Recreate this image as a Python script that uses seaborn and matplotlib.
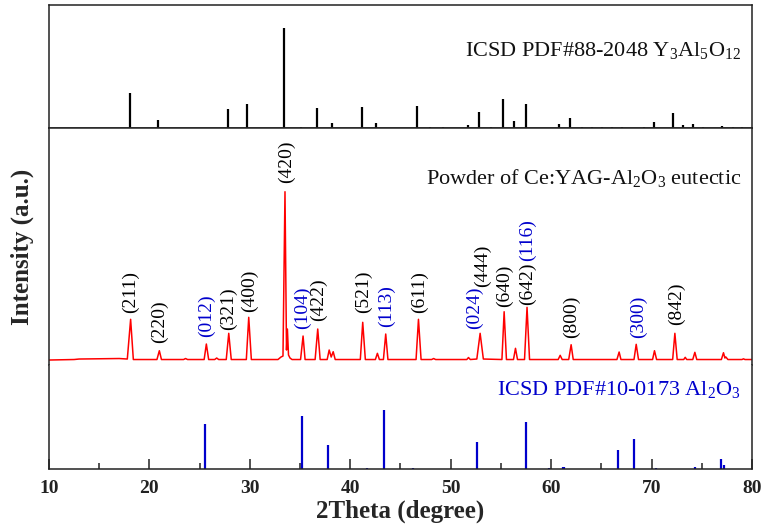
import numpy as np
import pandas as pd
import seaborn as sns
import matplotlib.pyplot as plt
from matplotlib.ticker import MultipleLocator

sns.set_theme(style='ticks')
plt.rcParams['font.family'] = ['Liberation Serif', 'DejaVu Serif']
plt.rcParams['mathtext.default'] = 'regular'

# YAG reference pattern (ICSD PDF#88-2048), relative intensity
yag_pos = [18.07, 20.9, 27.8, 29.75, 33.44, 35.1, 36.66, 38.2, 41.17, 42.6,
           46.69, 47.95, 49.2, 51.7, 52.86, 54.03, 55.2, 56.35, 57.5, 60.77,
           61.83, 63.05, 64.05, 65.05, 66.1, 67.1, 69.2, 70.2, 72.1, 73.1,
           74.1, 75.1, 77.06, 78.1, 79.0]
yag_int = [35, 8, 19, 24, 100, 1, 20, 5, 21, 5,
           22, 1, 1, 3, 16, 1, 28.7, 7, 24, 4,
           10, 1, 1, 1, 1, 1, 1, 6, 14.7, 3,
           4, 1, 2, 1.5, 1.5]

# Al2O3 reference pattern (ICSD PDF#10-0173)
alo_pos = [25.54, 35.17, 37.79, 41.7, 43.37, 46.2, 52.57, 57.5, 59.8, 61.15,
           61.3, 66.67, 68.3, 70.46, 74.35, 76.9, 77.25]
alo_int = [44.7, 53, 23.7, 1, 59, 1, 27, 46.7, 1, 2,
           2, 18.7, 30, 1, 2, 9.7, 4]

# measured powder pattern of the Ce:YAG-Al2O3 eutectic
tth = [10, 12.5, 13, 17, 17.8, 18.13, 18.4, 20.75, 20.99, 21.2,
       23.4, 23.6, 23.8, 25.45, 25.67, 25.9, 26.5, 26.7, 26.9, 27.65,
       27.9, 28.15, 29.65, 29.89, 30.15, 32.8, 33.1, 33.3, 33.5, 33.65,
       33.74, 33.85, 34.0, 34.2, 35.05, 35.3, 35.5, 36.5, 36.76, 37.0,
       37.7, 37.9, 38.1, 38.3, 38.5, 41.0, 41.24, 41.5, 42.5, 42.7,
       42.9, 43.3, 43.53, 43.75, 46.55, 46.79, 47.05, 48.1, 48.3, 48.5,
       51.6, 51.77, 51.95, 52.6, 52.93, 53.25, 55.1, 55.32, 55.55, 56.25,
       56.45, 56.65, 57.35, 57.6, 57.85, 60.7, 60.9, 61.1, 61.75, 61.99,
       62.2, 66.55, 66.77, 66.95, 68.25, 68.47, 68.7, 70.1, 70.29, 70.5,
       72.1, 72.32, 72.55, 73.2, 73.35, 73.5, 74.1, 74.31, 74.5, 76.95,
       77.16, 77.3, 77.4, 77.6, 79.0, 79.15, 79.3, 80]
counts = [0, 0.5, 1, 1.5, 1, 40.7, 0.5, 0.5, 9.3, 0.5,
          0.5, 1.5, 0.5, 0.5, 16, 0.5, 0.5, 2, 0.5, 0.5,
          26.7, 0.5, 0.5, 42.7, 0.5, 0.5, 3, 4, 168.3, 10,
          31, 5, 2, 0.5, 0.5, 24, 0.5, 0.5, 31, 0.5,
          0.5, 10, 3, 8.3, 0.5, 0.5, 37.7, 0.5, 0.5, 6.7,
          0.5, 0.5, 26, 0.5, 0.5, 40.7, 0.5, 0.5, 1.5, 0.5,
          0.5, 2.5, 0.5, 1, 26.7, 1, 0.5, 48.3, 0.5, 0.5,
          11.7, 0.5, 0.5, 52.7, 0.5, 0.5, 4.7, 0.5, 0.5, 15.3,
          0.5, 0.5, 8, 0.5, 0.5, 15.7, 0.5, 0.5, 9.3, 0.5,
          0.5, 26.7, 0.5, 0.5, 2.7, 0.5, 0.5, 7.7, 0.5, 0.5,
          7.3, 2, 3, 0.5, 0.5, 1.2, 0.5, 0.5]

# Miller index labels: text, 2theta, height of label foot, phase
hkl_text = ['(211)', '(220)', '(012)', '(321)', '(400)', '(420)', '(104)', '(422)',
            '(521)', '(113)', '(611)', '(024)', '(444)', '(640)', '(642)', '(116)',
            '(800)', '(300)', '(842)']
hkl_x = [18.07, 20.99, 25.71, 27.86, 29.95, 33.68, 35.2, 36.79,
         41.27, 43.64, 46.85, 52.33, 53.2, 55.32, 57.68, 57.68,
         61.99, 68.69, 72.45]
hkl_y = [47.3, 17, 23.3, 30, 48.3, 176.7, 31, 39.3,
         47, 33.3, 47, 31, 73.3, 53.3, 55, 99,
         22, 22, 35]
hkl_phase = ['YAG', 'YAG', 'Al2O3', 'YAG', 'YAG', 'YAG', 'Al2O3', 'YAG',
             'YAG', 'Al2O3', 'YAG', 'Al2O3', 'YAG', 'YAG', 'YAG', 'Al2O3',
             'YAG', 'Al2O3', 'YAG']

blue = '#0000CC'
phase_color = {'YAG': 'black', 'Al2O3': blue}

fig = plt.figure(figsize=(7.64, 5.27), dpi=100)
gs = fig.add_gridspec(3, 1, height_ratios=[123, 237, 104], hspace=0,
                      left=0.0641, right=0.9843, top=0.9905, bottom=0.110)
ax_top = fig.add_subplot(gs[0])
ax_mid = fig.add_subplot(gs[1], sharex=ax_top)
ax_bot = fig.add_subplot(gs[2], sharex=ax_top)

# top: YAG sticks
ax_top.vlines(yag_pos, 0, yag_int, color='black', lw=1.6)
ax_top.set_ylim(0, 123)
ax_top.text(0.985, 0.63, 'ICSD PDF#88-2048 Y$_3$Al$_5$O$_{12}$', transform=ax_top.transAxes,
            ha='right', va='center', fontsize=16, color='#111111')

# middle: measured pattern
df = pd.DataFrame({'2theta': tth, 'I': counts})
sns.lineplot(data=df, x='2theta', y='I', ax=ax_mid, color='red', lw=1.1, sort=False)
ax_mid.set_ylim(-5, 232)
ax_mid.text(0.985, 0.79, 'Powder of Ce:YAG-Al$_2$O$_3$ eutectic', transform=ax_mid.transAxes,
            ha='right', va='center', fontsize=16, color='#111111')
for t, x, y, p in zip(hkl_text, hkl_x, hkl_y, hkl_phase):
    ax_mid.text(x, y, t, rotation=90, ha='center', va='bottom', fontsize=14,
                color=phase_color[p])

# bottom: Al2O3 sticks
ax_bot.vlines(alo_pos, 0, alo_int, color=blue, lw=1.6)
ax_bot.set_ylim(0, 104)
ax_bot.text(0.985, 0.76, 'ICSD PDF#10-0173 Al$_2$O$_3$', transform=ax_bot.transAxes,
            ha='right', va='center', fontsize=16, color=blue)

for ax in (ax_top, ax_mid, ax_bot):
    ax.set_xlim(10, 80)
    ax.set_yticks([])
    ax.set_ylabel('')
    ax.set_xlabel('')
    for s in ax.spines.values():
        s.set_linewidth(1.1)
        s.set_color('#222222')

ax_mid.spines['bottom'].set_visible(False)
ax_bot.spines['top'].set_visible(False)
ax_top.tick_params(axis='x', length=0, labelbottom=False)
ax_mid.tick_params(axis='x', which='both', length=0, labelbottom=False)

ax_bot.xaxis.set_major_locator(MultipleLocator(10))
ax_bot.xaxis.set_minor_locator(MultipleLocator(5))
ax_bot.tick_params(axis='x', which='major', direction='in', length=7, width=1.1,
                   labelsize=14, pad=8, colors='#222222')
ax_bot.tick_params(axis='x', which='minor', direction='in', length=4, width=1.1,
                   colors='#222222')
for lab in ax_bot.get_xticklabels():
    lab.set_fontweight('bold')
ax_bot.set_xlabel('2Theta (degree)', fontsize=18, fontweight='bold', labelpad=2)

fig.text(22 / 764, 1 - 247 / 527, 'Intensity (a.u.)', rotation=90, ha='center', va='center',
         fontsize=18, fontweight='bold')

fig.savefig('out.png', dpi=100)
